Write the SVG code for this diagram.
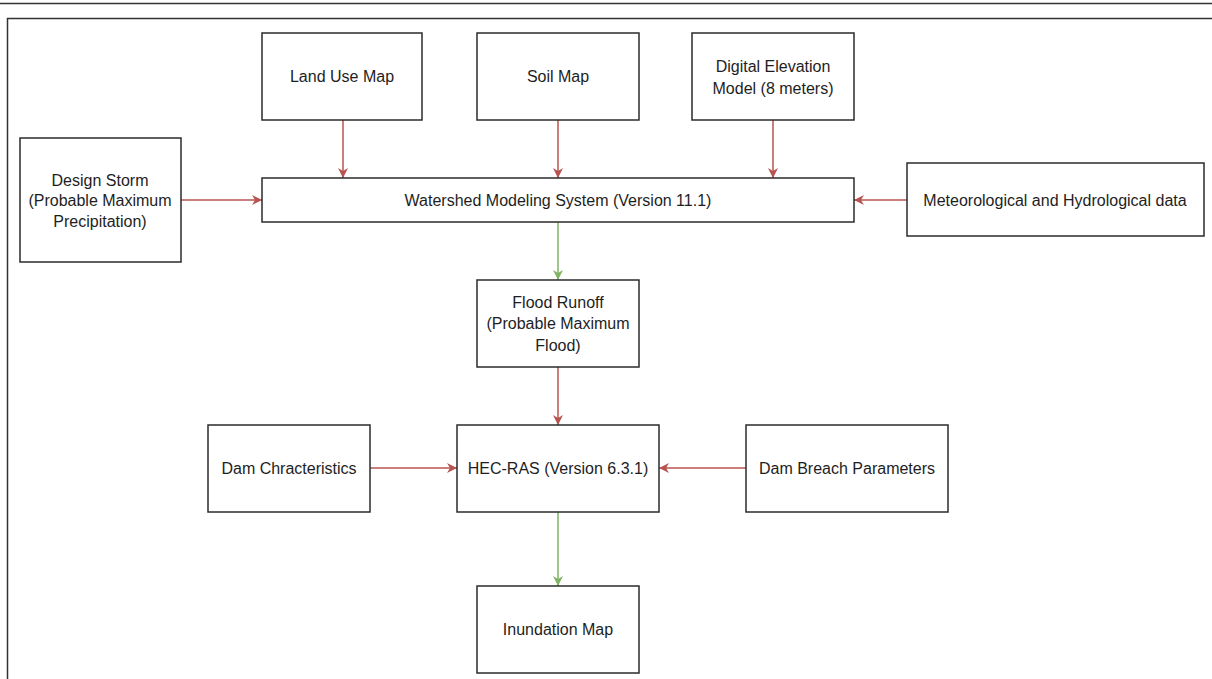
<svg xmlns="http://www.w3.org/2000/svg" width="1212" height="679" viewBox="0 0 1212 679">
<style>
.box{fill:#fff;stroke:#2b2b2b;stroke-width:1.5}
.t{font-family:"Liberation Sans",Arial,sans-serif;font-size:16px;fill:#1e1e1e;text-anchor:middle;dominant-baseline:central}
.red{stroke:#b85450;stroke-width:1.5;fill:none;marker-end:url(#ar)}
.green{stroke:#82b366;stroke-width:1.5;fill:none;marker-end:url(#ag)}
.frame{fill:none;stroke:#333;stroke-width:1.5}
</style>
<defs>
<marker id="ar" viewBox="0 0 10 10" refX="10" refY="5" markerWidth="10" markerHeight="11" markerUnits="userSpaceOnUse" orient="auto">
<path d="M0,0 L10,5 L0,10 L3,5 z" fill="#b85450"/>
</marker>
<marker id="ag" viewBox="0 0 10 10" refX="10" refY="5" markerWidth="10" markerHeight="11" markerUnits="userSpaceOnUse" orient="auto">
<path d="M0,0 L10,5 L0,10 L3,5 z" fill="#82b366"/>
</marker>
</defs>
<rect width="1212" height="679" fill="#fff"/>
<line x1="0" y1="3.5" x2="1212" y2="3.5" class="frame"/>
<path d="M7.5,679 V18.5 H1212" class="frame"/>

<g id="connectors">
<line x1="343" y1="120" x2="343" y2="178" class="red"/>
<line x1="558" y1="120" x2="558" y2="178" class="red"/>
<line x1="773" y1="120" x2="773" y2="178" class="red"/>
<line x1="181" y1="200" x2="262" y2="200" class="red"/>
<line x1="907" y1="200" x2="854" y2="200" class="red"/>
<line x1="558" y1="222" x2="558" y2="280" class="green"/>
<line x1="558" y1="367" x2="558" y2="425" class="red"/>
<line x1="370" y1="468" x2="457" y2="468" class="red"/>
<line x1="746" y1="468" x2="659" y2="468" class="red"/>
<line x1="558" y1="512" x2="558" y2="586" class="green"/>
</g>

<g id="land-use">
<rect x="262" y="33" width="160" height="87" class="box"/>
<text x="342" y="76" class="t">Land Use Map</text>
</g>
<g id="soil">
<rect x="477" y="33" width="162" height="87" class="box"/>
<text x="558" y="76" class="t">Soil Map</text>
</g>
<g id="dem">
<rect x="692" y="33" width="162" height="87" class="box"/>
<text x="773" y="66" class="t">Digital Elevation</text>
<text x="773" y="88" class="t">Model (8 meters)</text>
</g>
<g id="wms">
<rect x="262" y="178" width="592" height="44" class="box"/>
<text x="558" y="200" class="t">Watershed Modeling System (Version 11.1)</text>
</g>
<g id="design-storm">
<rect x="20" y="138" width="161" height="124" class="box"/>
<text x="100" y="180" class="t">Design Storm</text>
<text x="100" y="200" class="t">(Probable Maximum</text>
<text x="100" y="221" class="t">Precipitation)</text>
</g>
<g id="met">
<rect x="907" y="163" width="297" height="73" class="box"/>
<text x="1055" y="200" class="t">Meteorological and Hydrological data</text>
</g>
<g id="flood">
<rect x="477" y="280" width="162" height="87" class="box"/>
<text x="558" y="302" class="t">Flood Runoff</text>
<text x="558" y="323" class="t">(Probable Maximum</text>
<text x="558" y="345" class="t">Flood)</text>
</g>
<g id="dam-char">
<rect x="208" y="425" width="162" height="87" class="box"/>
<text x="289" y="468" class="t">Dam Chracteristics</text>
</g>
<g id="hec">
<rect x="457" y="425" width="202" height="87" class="box"/>
<text x="558" y="468" class="t">HEC-RAS (Version 6.3.1)</text>
</g>
<g id="breach">
<rect x="746" y="425" width="202" height="87" class="box"/>
<text x="847" y="468" class="t">Dam Breach Parameters</text>
</g>
<g id="inundation">
<rect x="477" y="586" width="162" height="87" class="box"/>
<text x="558" y="629" class="t">Inundation Map</text>
</g>
</svg>
